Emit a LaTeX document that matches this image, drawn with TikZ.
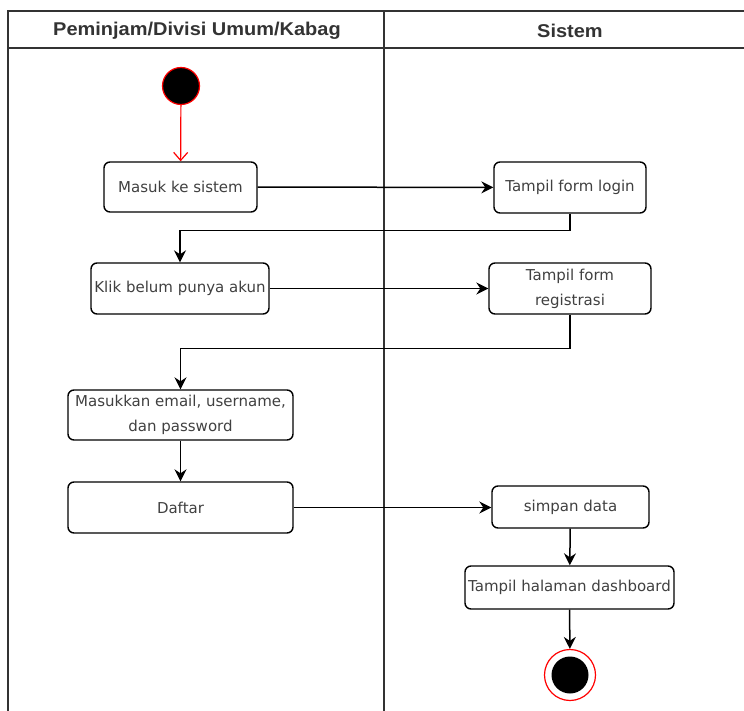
\documentclass[tikz,border=0pt]{standalone}
\usepackage{fontspec}
\usepackage{graphicx}
\setmainfont{DejaVu Sans}
\newfontfamily\headfont{Liberation Sans}
\usetikzlibrary{arrows.meta}
\begin{document}
\begin{tikzpicture}[x=1pt,y=-1pt,
  act/.style={draw, line width=1.4pt, rounded corners=6pt, align=center, inner sep=0pt, font=\fontsize{15}{25}\selectfont, text=black!75},
  flow/.style={draw, line width=1.5pt, -{Stealth[length=12pt,width=12pt,inset=4pt]}},
  lane/.style={line width=1.3pt, draw=black!80},
  head/.style={font=\headfont\bfseries\fontsize{18.5}{20}\selectfont, text=black!80}]
\useasboundingbox (0,0) rectangle (744,711);
\clip (0,0) rectangle (744,711);
% swimlanes
\draw[lane] (8,713) -- (8,11) -- (746,11);
\draw[lane] (8,48) -- (746,48);
\draw[lane] (384,11) -- (384,713);
\node[head] (h1) at (197,31) {\scalebox{1.08}[1]{Peminjam/Divisi Umum/Kabag}};
\node[head] (h2) at (570,31) {\scalebox{1.08}[1]{Sistem}};
% start
\node[circle, fill=black, draw=red, line width=1.2pt, minimum size=37pt, inner sep=0pt] (start) at (181,86) {};
% activities
\node[act, minimum width=153pt, minimum height=50pt] (masuk) at (180.5,187) {Masuk ke sistem};
\node[act, minimum width=152pt, minimum height=51pt] (login) at (570,187.5) {Tampil form login};
\node[act, minimum width=178pt, minimum height=51pt] (klik) at (180,288.5) {Klik belum punya akun};
\node[act, minimum width=162pt, minimum height=51pt] (reg) at (570,288.5) {Tampil form\\registrasi};
\node[act, minimum width=225pt, minimum height=50pt] (email) at (180.5,415) {Masukkan email, username,\\dan password};
\node[act, minimum width=225pt, minimum height=51pt] (daftar) at (180.5,507.5) {Daftar};
\node[act, minimum width=157pt, minimum height=42pt] (simpan) at (570.5,507) {simpan data};
\node[act, minimum width=209pt, minimum height=43pt] (dash) at (569.5,587.5) {Tampil halaman dashboard};
% end
\node[circle, draw=red, line width=1.2pt, minimum size=51pt, inner sep=0pt] (end) at (570,675) {};
\node[circle, fill=black, minimum size=37pt, inner sep=0pt] (endin) at (570,675) {};
% flows
\draw[line width=1.2pt, draw=red, -{Straight Barb[length=8pt,width=14pt,line width=1.2pt]}] (start) -- (masuk);
\draw[flow] (masuk) -- (login);
\draw[flow] (login.south) -- ++(0,17) -| (klik.north);
\draw[flow] (klik) -- (reg);
\draw[flow] (reg.south) -- ++(0,34) -| (email.north);
\draw[flow] (email) -- (daftar);
\draw[flow] (daftar.east) -- (simpan.west |- daftar.east);
\draw[flow] (simpan) -- (dash);
\draw[flow] (dash) -- (end);
\end{tikzpicture}
\end{document}
